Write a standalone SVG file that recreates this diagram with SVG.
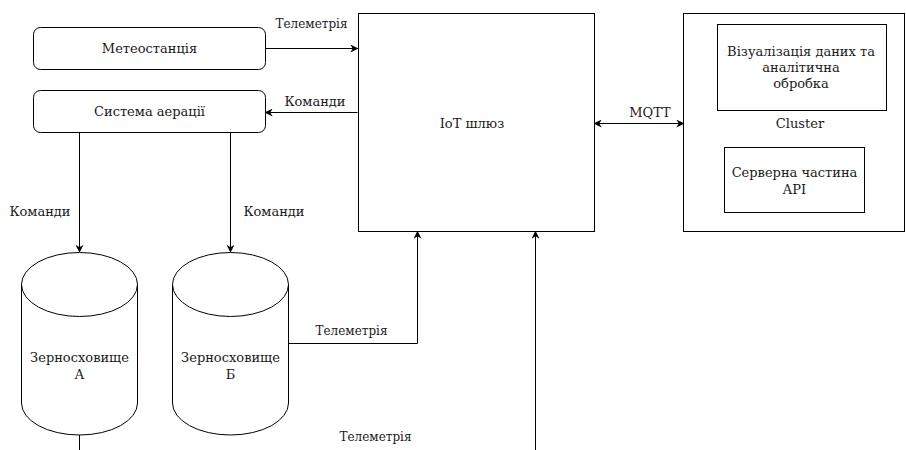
<svg xmlns="http://www.w3.org/2000/svg" width="906" height="450" viewBox="0 0 906 450">
<defs>
<marker id="arr" viewBox="0 0 10 10" refX="9" refY="5" markerWidth="8" markerHeight="8" markerUnits="userSpaceOnUse" orient="auto-start-reverse">
<path d="M0,0 L10,5 L0,10 L3,5 Z" fill="#000"/>
</marker>
<style>
.s{fill:#fff;stroke:#000;stroke-width:1}
.c{fill:none;stroke:#000;stroke-width:1}
text{font-family:"DejaVu Serif","Liberation Serif",serif;font-size:13px;fill:#1a1a1a;text-anchor:middle}
.t{font-size:12px}
</style>
</defs>
<rect width="906" height="450" fill="#fff"/>
<g id="connectors">
<line class="c" x1="265.5" y1="48.5" x2="357.5" y2="48.5" marker-end="url(#arr)"/>
<line class="c" x1="357.5" y1="112.5" x2="265.5" y2="112.5" marker-end="url(#arr)"/>
<line class="c" x1="594.5" y1="123.5" x2="683.5" y2="123.5" marker-start="url(#arr)" marker-end="url(#arr)"/>
<line class="c" x1="79.5" y1="132.5" x2="79.5" y2="252" marker-end="url(#arr)"/>
<line class="c" x1="230.5" y1="132.5" x2="230.5" y2="252" marker-end="url(#arr)"/>
<polyline class="c" points="288.5,343.5 417.5,343.5 417.5,231.5" marker-end="url(#arr)"/>
<line class="c" x1="535.5" y1="450" x2="535.5" y2="231.5" marker-end="url(#arr)"/>
<line class="c" x1="79.5" y1="435" x2="79.5" y2="450"/>
<text class="t" x="311.5" y="28">Телеметрія</text>
<text x="315" y="106">Команди</text>
<text x="650" y="117">MQTT</text>
<text x="40" y="216">Команди</text>
<text x="274" y="216">Команди</text>
<text class="t" x="351.5" y="335">Телеметрія</text>
<text class="t" x="375.5" y="441">Телеметрія</text>
</g>
<g id="meteo">
<rect class="s" x="33.5" y="27.5" width="232" height="42" rx="7"/>
<text x="149.5" y="53">Метеостанція</text>
</g>
<g id="aeration">
<rect class="s" x="33.5" y="90.5" width="232" height="42" rx="7"/>
<text x="149.5" y="116">Система аерації</text>
</g>
<g id="iot">
<rect class="s" x="358.5" y="13.5" width="236" height="218"/>
<text x="472" y="128">IoT шлюз</text>
</g>
<g id="cluster">
<rect class="s" x="683.5" y="13.5" width="221" height="218"/>
<text x="800" y="128">Cluster</text>
</g>
<g id="vis">
<rect class="s" x="717.5" y="24.5" width="169" height="86"/>
<text x="801" y="56">Візуалізація даних та</text>
<text x="801" y="72">аналітична</text>
<text x="801" y="88">обробка</text>
</g>
<g id="api">
<rect class="s" x="724.5" y="147.5" width="140" height="65"/>
<text x="794.5" y="177">Серверна частина</text>
<text x="794.5" y="194">API</text>
</g>
<g id="storA">
<path class="s" d="M21.5,284.5 A58,32 0 0 1 137.5,284.5 V403 A58,32 0 0 1 21.5,403 Z"/>
<path class="c" d="M21.5,284.5 A58,32 0 0 0 137.5,284.5"/>
<text x="79.5" y="362">Зерносховище</text>
<text x="79.5" y="379">А</text>
</g>
<g id="storB">
<path class="s" d="M172.5,284.5 A58,32 0 0 1 288.5,284.5 V403 A58,32 0 0 1 172.5,403 Z"/>
<path class="c" d="M172.5,284.5 A58,32 0 0 0 288.5,284.5"/>
<text x="230.5" y="362">Зерносховище</text>
<text x="230.5" y="379">Б</text>
</g>
</svg>
